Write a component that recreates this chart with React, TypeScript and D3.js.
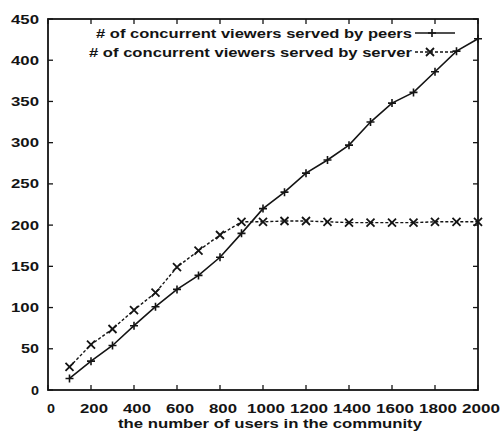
import { useEffect, useRef } from "react";
import * as d3 from "d3";

// values
const users = [100, 200, 300, 400, 500, 600, 700, 800, 900, 1000, 1100, 1200, 1300, 1400, 1500, 1600, 1700, 1800, 1900, 2000];
const peers = [14, 35, 54, 78, 101, 122, 139, 161, 190, 220, 240, 263, 279, 297, 325, 348, 361, 386, 411, 426];
const server = [28, 55, 74, 97, 118, 149, 169, 188, 204, 204, 205, 205, 204, 203, 203, 203, 203, 204, 204, 204];

const xTicks = [0, 200, 400, 600, 800, 1000, 1200, 1400, 1600, 1800, 2000];
const yTicks = [0, 50, 100, 150, 200, 250, 300, 350, 400, 450];

const legendLabels = [
  "# of concurrent viewers served by peers",
  "# of concurrent viewers served by server",
];

function App() {
  const ref = useRef<HTMLDivElement>(null);

  useEffect(() => {
    const width = 503;
    const height = 445;
    const margin = { left: 48, right: 25, top: 19, bottom: 55 };
    const font = "'Liberation Sans', Arial, sans-serif";
    const ink = "#141414";

    const x = d3.scaleLinear([0, 2000], [margin.left, width - margin.right]);
    const y = d3.scaleLinear([0, 450], [height - margin.bottom, margin.top]);

    const svg = d3
      .select(ref.current)
      .append("svg")
      .attr("width", width)
      .attr("height", height)
      .style("position", "absolute")
      .style("left", "0px")
      .style("top", "0px")
      .style("background", "#fff");

    // digits in the picture are wide, so stretch them a bit
    const numLen = (s: string) => 10 * s.length - 2;

    // ticks on all four sides (inward)
    const tickLen = 5;
    const ticks = svg.append("g").attr("stroke", ink).attr("stroke-width", 1.3);
    xTicks.forEach((t) => {
      ticks.append("line")
        .attr("x1", x(t)).attr("x2", x(t))
        .attr("y1", y(0)).attr("y2", y(0) - tickLen);
      ticks.append("line")
        .attr("x1", x(t)).attr("x2", x(t))
        .attr("y1", y(450)).attr("y2", y(450) + tickLen);
    });
    yTicks.forEach((t) => {
      ticks.append("line")
        .attr("x1", x(0)).attr("x2", x(0) + tickLen)
        .attr("y1", y(t)).attr("y2", y(t));
      ticks.append("line")
        .attr("x1", x(2000)).attr("x2", x(2000) - tickLen)
        .attr("y1", y(t)).attr("y2", y(t));
    });

    // frame
    svg.append("rect")
      .attr("x", x(0))
      .attr("y", y(450))
      .attr("width", x(2000) - x(0))
      .attr("height", y(0) - y(450))
      .attr("fill", "none")
      .attr("stroke", ink)
      .attr("stroke-width", 1.8);

    // tick labels
    svg.append("g")
      .selectAll("text")
      .data(xTicks)
      .enter()
      .append("text")
      .attr("x", (d) => x(d) + 3)
      .attr("y", 413)
      .attr("text-anchor", "middle")
      .attr("font-family", font)
      .attr("font-weight", "bold")
      .attr("font-size", "12.5px")
      .attr("fill", ink)
      .attr("textLength", (d) => numLen(String(d)))
      .attr("lengthAdjust", "spacingAndGlyphs")
      .text((d) => d);

    svg.append("g")
      .selectAll("text")
      .data(yTicks)
      .enter()
      .append("text")
      .attr("x", 39)
      .attr("y", (d) => y(d) + 4.5)
      .attr("text-anchor", "end")
      .attr("font-family", font)
      .attr("font-weight", "bold")
      .attr("font-size", "12.5px")
      .attr("fill", ink)
      .attr("textLength", (d) => numLen(String(d)))
      .attr("lengthAdjust", "spacingAndGlyphs")
      .text((d) => d);

    // axis title
    svg.append("text")
      .attr("x", 270)
      .attr("y", 428)
      .attr("text-anchor", "middle")
      .attr("font-family", font)
      .attr("font-weight", "bold")
      .attr("font-size", "12.5px")
      .attr("fill", ink)
      .attr("textLength", 304)
      .attr("lengthAdjust", "spacingAndGlyphs")
      .text("the number of users in the community");

    const line = d3
      .line<number>()
      .x((d, i) => x(users[i]))
      .y((d) => y(d));

    const plus = (g: any, cx: number, cy: number) => {
      g.append("path")
        .attr("d", `M${cx - 4},${cy}H${cx + 4}M${cx},${cy - 4}V${cy + 4}`)
        .attr("stroke", ink)
        .attr("stroke-width", 1.6);
    };
    const cross = (g: any, cx: number, cy: number) => {
      g.append("path")
        .attr("d", `M${cx - 4},${cy - 4}L${cx + 4},${cy + 4}M${cx - 4},${cy + 4}L${cx + 4},${cy - 4}`)
        .attr("stroke", ink)
        .attr("stroke-width", 1.8);
    };

    // peers: solid with +
    svg.append("path")
      .attr("d", line(peers))
      .attr("fill", "none")
      .attr("stroke", ink)
      .attr("stroke-width", 1.6);
    const pMarks = svg.append("g");
    peers.forEach((v, i) => plus(pMarks, x(users[i]), y(v)));

    // server: dashed with x
    svg.append("path")
      .attr("d", line(server))
      .attr("fill", "none")
      .attr("stroke", ink)
      .attr("stroke-width", 1.4)
      .attr("stroke-dasharray", "3,2");
    const sMarks = svg.append("g");
    server.forEach((v, i) => cross(sMarks, x(users[i]), y(v)));

    // legend
    const legend = svg.append("g");
    const lens = [316, 323];
    legendLabels.forEach((label, i) => {
      const ly = 33 + i * 19;
      legend.append("text")
        .attr("x", 412)
        .attr("y", ly + 4.5)
        .attr("text-anchor", "end")
        .attr("font-family", font)
        .attr("font-weight", "bold")
        .attr("font-size", "12.5px")
        .attr("fill", ink)
        .attr("textLength", lens[i])
        .attr("lengthAdjust", "spacingAndGlyphs")
        .text(label);
      legend.append("line")
        .attr("x1", 415).attr("x2", 455)
        .attr("y1", ly).attr("y2", ly)
        .attr("stroke", ink)
        .attr("stroke-width", i === 0 ? 1.6 : 1.4)
        .attr("stroke-dasharray", i === 0 ? null : "3,2");
      if (i === 0) plus(legend, 432, ly);
      else cross(legend, 430, ly);
    });

    return () => {
      d3.select(ref.current).select("svg").remove();
    };
  }, []);

  return <div ref={ref}></div>;
}

export default App;
